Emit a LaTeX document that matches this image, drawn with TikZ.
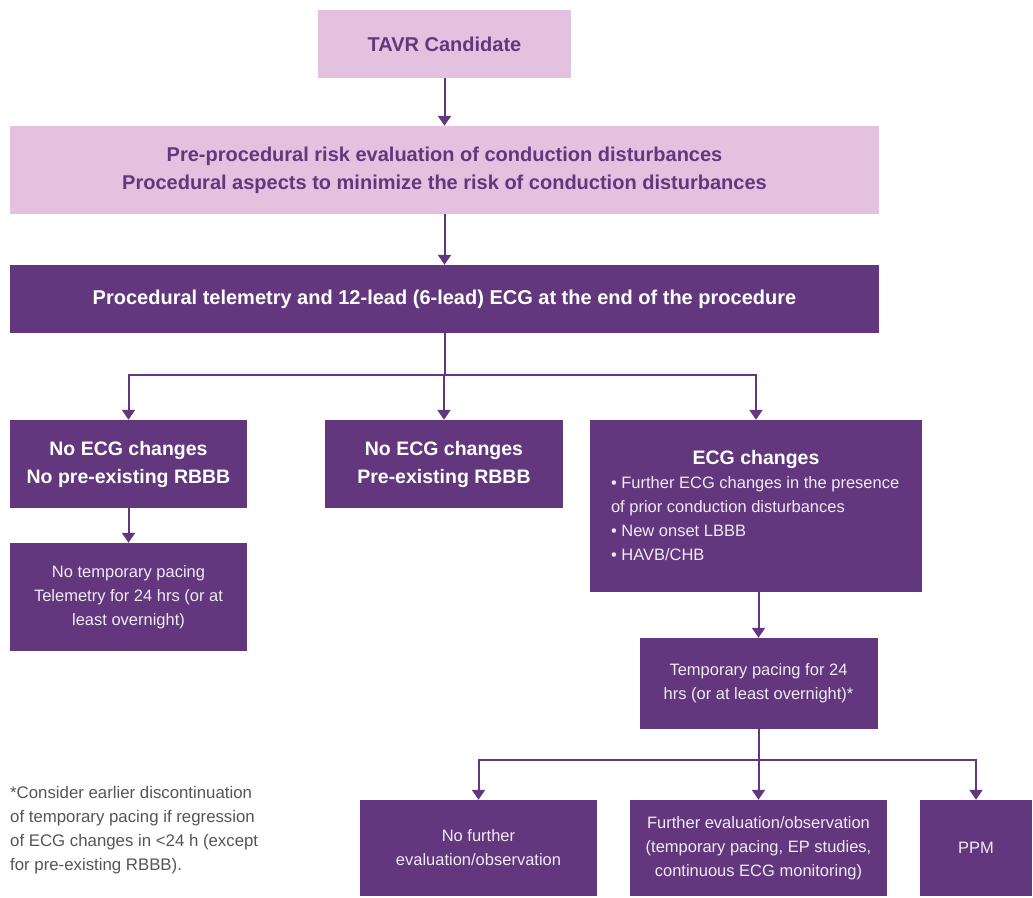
\documentclass[tikz,border=0pt]{standalone}
\usepackage{fontspec}
\setmainfont{Liberation Sans}
\usepackage{tikz}
\usetikzlibrary{arrows,arrows.meta,positioning}
\definecolor{darkpurple}{HTML}{62377D}
\definecolor{lightpink}{HTML}{E4C1DF}
\definecolor{palewhite}{HTML}{F1EAF3}
\definecolor{notegray}{HTML}{555555}
\tikzstyle{edge}    =[draw=darkpurple, line width=2pt,
                      -{Triangle[length=10pt,width=13pt]}]
\tikzstyle{lightbox}=[rectangle, fill=lightpink, text=darkpurple,
                      font=\bfseries\fontsize{20}{28}\selectfont,
                      align=center, inner sep=0pt]
\tikzstyle{darkbox} =[rectangle, fill=darkpurple, text=white,
                      font=\bfseries\fontsize{19.5}{28}\selectfont,
                      align=center, inner sep=0pt]
\tikzstyle{thinbox} =[darkbox, text=palewhite,
                      font=\fontsize{16.5}{24}\selectfont]
\tikzstyle{note}    =[text=notegray, align=left, inner sep=0pt,
                      font=\fontsize{16.8}{24}\selectfont]

\begin{document}
\begin{tikzpicture}[x=1pt,y=-1pt]
        \useasboundingbox (0,0) rectangle (1033,897);

        % top of the chart
        \draw (444.5,44) node (tavr) [lightbox, minimum width=253pt, minimum height=68pt] {TAVR Candidate};
        \draw (444.5,170) node (pre) [lightbox, minimum width=869pt, minimum height=88pt]
            {Pre-procedural risk evaluation of conduction disturbances\\
             Procedural aspects to minimize the risk of conduction disturbances};
        \draw (444.5,299) node (tele) [darkbox, font=\bfseries\fontsize{20}{28}\selectfont,
            minimum width=869pt, minimum height=68pt]
            {Procedural telemetry and 12-lead (6-lead) ECG at the end of the procedure};

        % after the procedure
        \draw (128.5,464) node (nochg) [darkbox, minimum width=237pt, minimum height=88pt]
            {No ECG changes\\No pre-existing RBBB};
        \draw (444,464) node (rbbb) [darkbox, minimum width=238pt, minimum height=88pt]
            {No ECG changes\\Pre-existing RBBB};
        \draw (756,506) node (chg) [darkbox, minimum width=332pt, minimum height=172pt]
            {\parbox{290pt}{{\centering ECG changes\par}
             \raggedright\mdseries\fontsize{16.5}{24}\selectfont\color{palewhite}
             \textbullet\ Further ECG changes in the presence\\
             of prior conduction disturbances\\
             \textbullet\ New onset LBBB\\
             \textbullet\ HAVB/CHB}};
        \draw (128.5,597) node (notemp) [thinbox, minimum width=237pt, minimum height=108pt]
            {No temporary pacing\\Telemetry for 24 hrs (or at\\least overnight)};
        \draw (758.5,683.5) node (temp) [thinbox, minimum width=238pt, minimum height=91pt]
            {Temporary pacing for 24\\hrs (or at least overnight)*};

        % bottom row
        \draw (478.5,848) node (nofur) [thinbox, minimum width=237pt, minimum height=96pt]
            {No further\\evaluation/observation};
        \draw (758.5,848) node (furev) [thinbox, minimum width=257pt, minimum height=96pt]
            {Further evaluation/observation\\(temporary pacing, EP studies,\\continuous ECG monitoring)};
        \draw (976,848) node (ppm) [thinbox, minimum width=112pt, minimum height=96pt] {PPM};

        \draw (10,830) node (fn) [note, anchor=west]
            {*Consider earlier discontinuation\\of temporary pacing if regression\\
             of ECG changes in <24 h (except\\for pre-existing RBBB).};

        \coordinate (sp1) at (444.5,375);
        \coordinate (sp2) at (758.5,760);

        \foreach \i/\j in {tavr/pre,pre/tele,nochg/notemp}
            \draw [edge] (\i) to (\j);
        \draw [edge] (temp.north |- chg.south) to (temp.north);
        \foreach \j in {nochg,rbbb,chg}
            \draw [edge] (tele.south) |- (sp1) -| (\j.north);
        \foreach \j in {nofur,furev,ppm}
            \draw [edge] (temp.south) |- (sp2) -| (\j.north);

\end{tikzpicture}
\end{document}
